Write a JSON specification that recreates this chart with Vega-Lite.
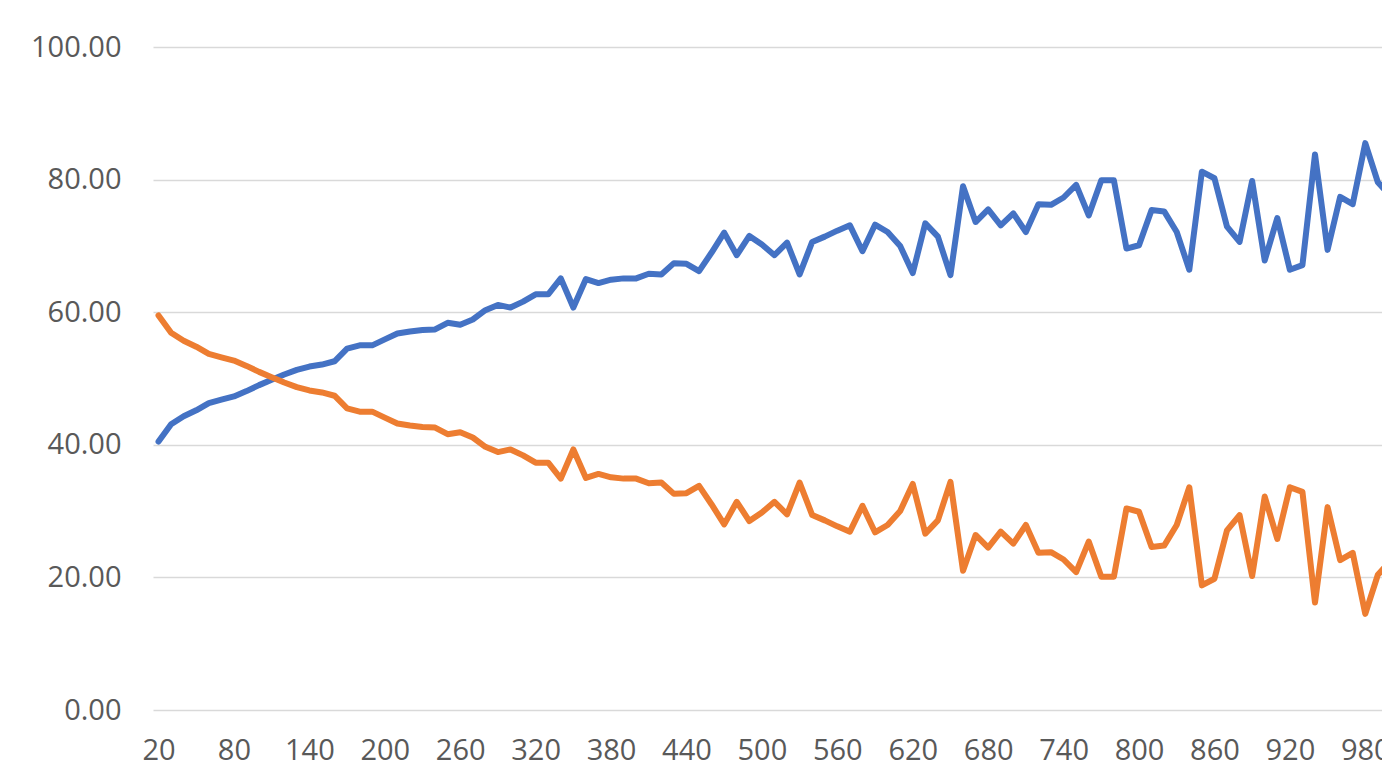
{
  "$schema": "https://vega.github.io/schema/vega-lite/v6.json",
  "width": 1229,
  "height": 663,
  "autosize": {"type": "none"},
  "padding": {"left": 153, "top": 47, "right": 0, "bottom": 54},
  "background": "#ffffff",
  "config": {"view": {"stroke": null}},
  "data": {"values": [
    {"n": 20, "a": 40.5, "b": 59.5},
    {"n": 30, "a": 43.1, "b": 56.9},
    {"n": 40, "a": 44.3, "b": 55.7},
    {"n": 50, "a": 45.2, "b": 54.8},
    {"n": 60, "a": 46.3, "b": 53.7},
    {"n": 70, "a": 46.8, "b": 53.2},
    {"n": 80, "a": 47.3, "b": 52.7},
    {"n": 90, "a": 48.1, "b": 51.9},
    {"n": 100, "a": 49.0, "b": 51.0},
    {"n": 110, "a": 49.8, "b": 50.2},
    {"n": 120, "a": 50.6, "b": 49.4},
    {"n": 130, "a": 51.3, "b": 48.7},
    {"n": 140, "a": 51.8, "b": 48.2},
    {"n": 150, "a": 52.1, "b": 47.9},
    {"n": 160, "a": 52.6, "b": 47.4},
    {"n": 170, "a": 54.5, "b": 45.5},
    {"n": 180, "a": 55.0, "b": 45.0},
    {"n": 190, "a": 55.0, "b": 45.0},
    {"n": 200, "a": 55.9, "b": 44.1},
    {"n": 210, "a": 56.8, "b": 43.2},
    {"n": 220, "a": 57.1, "b": 42.9},
    {"n": 230, "a": 57.3, "b": 42.7},
    {"n": 240, "a": 57.4, "b": 42.6},
    {"n": 250, "a": 58.4, "b": 41.6},
    {"n": 260, "a": 58.1, "b": 41.9},
    {"n": 270, "a": 58.9, "b": 41.1},
    {"n": 280, "a": 60.3, "b": 39.7},
    {"n": 290, "a": 61.1, "b": 38.9},
    {"n": 300, "a": 60.7, "b": 39.3},
    {"n": 310, "a": 61.6, "b": 38.4},
    {"n": 320, "a": 62.7, "b": 37.3},
    {"n": 330, "a": 62.7, "b": 37.3},
    {"n": 340, "a": 65.1, "b": 34.9},
    {"n": 350, "a": 60.7, "b": 39.3},
    {"n": 360, "a": 65.0, "b": 35.0},
    {"n": 370, "a": 64.4, "b": 35.6},
    {"n": 380, "a": 64.9, "b": 35.1},
    {"n": 390, "a": 65.1, "b": 34.9},
    {"n": 400, "a": 65.1, "b": 34.9},
    {"n": 410, "a": 65.8, "b": 34.2},
    {"n": 420, "a": 65.7, "b": 34.3},
    {"n": 430, "a": 67.4, "b": 32.6},
    {"n": 440, "a": 67.3, "b": 32.7},
    {"n": 450, "a": 66.2, "b": 33.8},
    {"n": 460, "a": 69.0, "b": 31.0},
    {"n": 470, "a": 72.0, "b": 28.0},
    {"n": 480, "a": 68.6, "b": 31.4},
    {"n": 490, "a": 71.5, "b": 28.5},
    {"n": 500, "a": 70.2, "b": 29.8},
    {"n": 510, "a": 68.6, "b": 31.4},
    {"n": 520, "a": 70.5, "b": 29.5},
    {"n": 530, "a": 65.7, "b": 34.3},
    {"n": 540, "a": 70.6, "b": 29.4},
    {"n": 550, "a": 71.4, "b": 28.6},
    {"n": 560, "a": 72.3, "b": 27.7},
    {"n": 570, "a": 73.1, "b": 26.9},
    {"n": 580, "a": 69.2, "b": 30.8},
    {"n": 590, "a": 73.2, "b": 26.8},
    {"n": 600, "a": 72.1, "b": 27.9},
    {"n": 610, "a": 70.0, "b": 30.0},
    {"n": 620, "a": 65.9, "b": 34.1},
    {"n": 630, "a": 73.4, "b": 26.6},
    {"n": 640, "a": 71.4, "b": 28.6},
    {"n": 650, "a": 65.6, "b": 34.4},
    {"n": 660, "a": 79.0, "b": 21.0},
    {"n": 670, "a": 73.6, "b": 26.4},
    {"n": 680, "a": 75.5, "b": 24.5},
    {"n": 690, "a": 73.1, "b": 26.9},
    {"n": 700, "a": 74.9, "b": 25.1},
    {"n": 710, "a": 72.1, "b": 27.9},
    {"n": 720, "a": 76.3, "b": 23.7},
    {"n": 730, "a": 76.2, "b": 23.8},
    {"n": 740, "a": 77.3, "b": 22.7},
    {"n": 750, "a": 79.2, "b": 20.8},
    {"n": 760, "a": 74.6, "b": 25.4},
    {"n": 770, "a": 79.9, "b": 20.1},
    {"n": 780, "a": 79.9, "b": 20.1},
    {"n": 790, "a": 69.6, "b": 30.4},
    {"n": 800, "a": 70.1, "b": 29.9},
    {"n": 810, "a": 75.4, "b": 24.6},
    {"n": 820, "a": 75.2, "b": 24.8},
    {"n": 830, "a": 72.1, "b": 27.9},
    {"n": 840, "a": 66.4, "b": 33.6},
    {"n": 850, "a": 81.2, "b": 18.8},
    {"n": 860, "a": 80.2, "b": 19.8},
    {"n": 870, "a": 72.9, "b": 27.1},
    {"n": 880, "a": 70.6, "b": 29.4},
    {"n": 890, "a": 79.8, "b": 20.2},
    {"n": 900, "a": 67.8, "b": 32.2},
    {"n": 910, "a": 74.2, "b": 25.8},
    {"n": 920, "a": 66.4, "b": 33.6},
    {"n": 930, "a": 67.1, "b": 32.9},
    {"n": 940, "a": 83.8, "b": 16.2},
    {"n": 950, "a": 69.4, "b": 30.6},
    {"n": 960, "a": 77.4, "b": 22.6},
    {"n": 970, "a": 76.3, "b": 23.7},
    {"n": 980, "a": 85.5, "b": 14.5},
    {"n": 990, "a": 79.6, "b": 20.4},
    {"n": 1000, "a": 77.5, "b": 22.5}
  ]},
  "encoding": {
    "x": {
      "field": "n",
      "type": "quantitative",
      "scale": {"domain": [15.6, 993.3], "nice": false, "zero": false},
      "axis": {
        "title": null,
        "values": [20, 80, 140, 200, 260, 320, 380, 440, 500, 560, 620, 680, 740, 800, 860, 920, 980],
        "format": "d",
        "grid": false,
        "domain": false,
        "ticks": false,
        "tickSize": 0,
        "labelPadding": 26,
        "labelFont": "Open Sans",
        "labelFontSize": 29,
        "labelColor": "#595959",
        "labelFlush": false,
        "labelOverlap": false
      }
    }
  },
  "layer": [
    {
      "mark": {"type": "line", "color": "#4472C4", "strokeWidth": 6, "strokeJoin": "round", "strokeCap": "round", "clip": true},
      "encoding": {
        "y": {
          "field": "a",
          "type": "quantitative",
          "scale": {"domain": [0, 100], "nice": false},
          "axis": {
            "title": null,
            "values": [0, 20, 40, 60, 80, 100],
            "format": ".2f",
            "grid": true,
            "gridColor": "#d9d9d9",
            "gridWidth": 1.5,
            "domain": false,
            "ticks": false,
            "tickSize": 0,
            "labelPadding": 32,
            "labelFont": "Open Sans",
            "labelFontSize": 29,
            "labelColor": "#595959"
          }
        }
      }
    },
    {
      "mark": {"type": "line", "color": "#ED7D31", "strokeWidth": 6, "strokeJoin": "round", "strokeCap": "round", "clip": true},
      "encoding": {
        "y": {"field": "b", "type": "quantitative", "scale": {"domain": [0, 100], "nice": false}}
      }
    }
  ]
}
